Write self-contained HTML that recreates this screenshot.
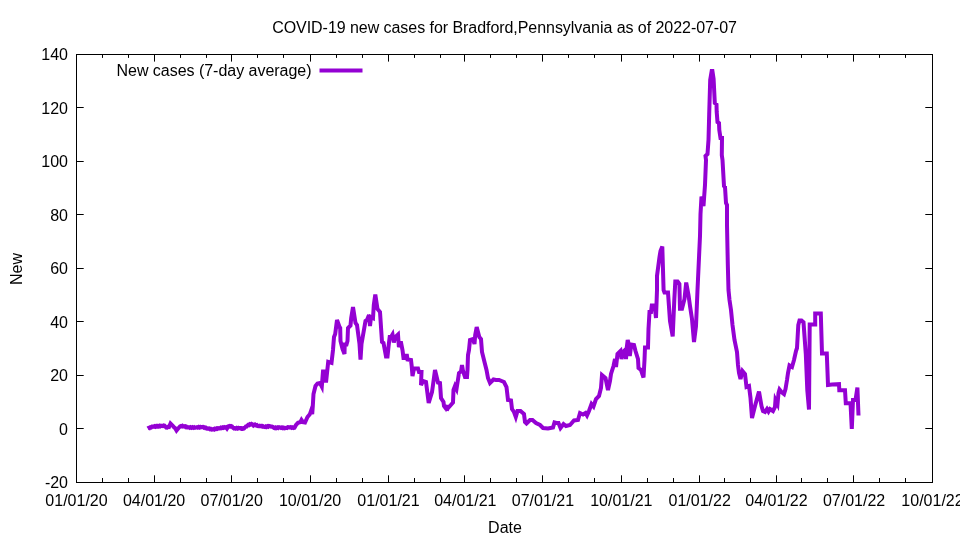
<!DOCTYPE html>
<html><head><meta charset="utf-8"><title>COVID-19 new cases</title>
<style>html,body{margin:0;padding:0;background:#fff}svg{display:block;will-change:transform;opacity:.9999}text{font-family:"Liberation Sans",sans-serif;font-size:16px;fill:#000}</style></head><body>
<svg width="960" height="540" viewBox="0 0 960 540">
<rect width="960" height="540" fill="#fff"/>
<path d="M76.5,482.5V475.3M76.5,54.5V61.6M154.5,482.5V475.3M154.5,54.5V61.6M231.5,482.5V475.3M231.5,54.5V61.6M310.5,482.5V475.3M310.5,54.5V61.6M388.5,482.5V475.3M388.5,54.5V61.6M464.5,482.5V475.3M464.5,54.5V61.6M542.5,482.5V475.3M542.5,54.5V61.6M621.5,482.5V475.3M621.5,54.5V61.6M699.5,482.5V475.3M699.5,54.5V61.6M776.5,482.5V475.3M776.5,54.5V61.6M853.5,482.5V475.3M853.5,54.5V61.6M932.5,482.5V475.3M932.5,54.5V61.6M102.5,482.5V478M102.5,54.5V57.9M128.5,482.5V478M128.5,54.5V57.9M180.5,482.5V478M180.5,54.5V57.9M206.5,482.5V478M206.5,54.5V57.9M257.5,482.5V478M257.5,54.5V57.9M283.5,482.5V478M283.5,54.5V57.9M336.5,482.5V478M336.5,54.5V57.9M362.5,482.5V478M362.5,54.5V57.9M414.5,482.5V478M414.5,54.5V57.9M440.5,482.5V478M440.5,54.5V57.9M490.5,482.5V478M490.5,54.5V57.9M516.5,482.5V478M516.5,54.5V57.9M568.5,482.5V478M568.5,54.5V57.9M594.5,482.5V478M594.5,54.5V57.9M647.5,482.5V478M647.5,54.5V57.9M673.5,482.5V478M673.5,54.5V57.9M724.5,482.5V478M724.5,54.5V57.9M750.5,482.5V478M750.5,54.5V57.9M801.5,482.5V478M801.5,54.5V57.9M827.5,482.5V478M827.5,54.5V57.9M879.5,482.5V478M879.5,54.5V57.9M905.5,482.5V478M905.5,54.5V57.9M76.5,482.5h7.2M932.5,482.5h-7.2M76.5,428.5h7.2M932.5,428.5h-7.2M76.5,375.5h7.2M932.5,375.5h-7.2M76.5,321.5h7.2M932.5,321.5h-7.2M76.5,268.5h7.2M932.5,268.5h-7.2M76.5,214.5h7.2M932.5,214.5h-7.2M76.5,161.5h7.2M932.5,161.5h-7.2M76.5,107.5h7.2M932.5,107.5h-7.2M76.5,54.5h7.2M932.5,54.5h-7.2" stroke="#000" stroke-width="1" fill="none"/>
<rect x="76.5" y="54.5" width="856.0" height="428.0" fill="none" stroke="#000" stroke-width="1"/>
<text x="68" y="488.0" text-anchor="end">-20</text>
<text x="68" y="434.5" text-anchor="end">0</text>
<text x="68" y="381.0" text-anchor="end">20</text>
<text x="68" y="327.5" text-anchor="end">40</text>
<text x="68" y="274.0" text-anchor="end">60</text>
<text x="68" y="220.5" text-anchor="end">80</text>
<text x="68" y="167.0" text-anchor="end">100</text>
<text x="68" y="113.5" text-anchor="end">120</text>
<text x="68" y="60.0" text-anchor="end">140</text>
<text x="76.5" y="505.7" text-anchor="middle">01/01/20</text>
<text x="154.1" y="505.7" text-anchor="middle">04/01/20</text>
<text x="231.7" y="505.7" text-anchor="middle">07/01/20</text>
<text x="310.1" y="505.7" text-anchor="middle">10/01/20</text>
<text x="388.5" y="505.7" text-anchor="middle">01/01/21</text>
<text x="465.3" y="505.7" text-anchor="middle">04/01/21</text>
<text x="542.9" y="505.7" text-anchor="middle">07/01/21</text>
<text x="621.3" y="505.7" text-anchor="middle">10/01/21</text>
<text x="699.7" y="505.7" text-anchor="middle">01/01/22</text>
<text x="776.5" y="505.7" text-anchor="middle">04/01/22</text>
<text x="854.1" y="505.7" text-anchor="middle">07/01/22</text>
<text x="932.5" y="505.7" text-anchor="middle">10/01/22</text>
<text x="272.2" y="33" textLength="464.7" lengthAdjust="spacing">COVID-19 new cases for Bradford,Pennsylvania as of 2022-07-07</text>
<text x="505" y="532.7" text-anchor="middle">Date</text>
<text transform="translate(22,269) rotate(-90)" text-anchor="middle">New</text>
<text x="116.5" y="76" textLength="195" lengthAdjust="spacing">New cases (7-day average)</text>
<path d="M319.5,70.5H362.5" stroke="#9400d3" stroke-width="4" fill="none"/>
<polyline points="147.7,428.5 148.58,427.87 149.47,428.13 150.35,427.2 151.23,427.47 152.12,426.53 153,426.5 153.82,426.75 154.64,426.11 155.45,426.66 156.27,426.02 157.09,426.57 157.91,425.93 158.73,426.48 159.55,425.84 160.36,426.39 161.18,425.75 162,426 162.83,426.13 163.67,425.37 164.5,425.5 166.2,427.5 167.13,427.63 168.07,426.87 169,427 170.5,423.5 173,426 174,427.3 175,428 176.5,430.5 179,427.5 180,426.45 181,426 181.75,426.35 182.5,425.8 183.25,426.45 184,426.2 184.8,426.16 185.6,427.02 186.4,426.68 187.2,427.54 188,427.5 188.89,427.2 189.78,427.8 190.67,427.2 191.56,427.8 192.44,427.2 193.33,427.8 194.22,427.2 195.11,427.8 196,427.5 196.86,427.13 197.71,427.66 198.57,426.99 199.43,427.51 200.29,426.84 201.14,427.37 202,427 202.86,426.91 203.71,427.73 204.57,427.34 205.43,428.16 206.29,427.77 207.14,428.59 208,428.5 208.9,428.4 209.8,429.2 210.7,428.8 211.6,429.6 212.5,429.5 213.31,429.04 214.12,429.48 214.94,428.71 215.75,429.15 216.56,428.39 217.38,428.82 218.19,428.06 219,428.2 219.88,428.38 220.75,427.65 221.62,428.12 222.5,427.4 223.38,427.88 224.25,427.15 225.12,427.62 226,427.2 227,428.5 228.5,426.2 229.38,425.97 230.25,426.65 231.12,426.12 232,426.5 233,427.8 234,428.5 234.86,428.13 235.71,428.66 236.57,427.99 237.43,428.51 238.29,427.84 239.14,428.37 240,428 240.83,428.03 241.67,428.97 242.5,429 243.33,428.2 244.17,428.3 245,427.5 245.83,426.53 246.67,426.47 247.5,425.5 248.3,424.86 249.1,425.12 249.9,424.18 250.7,424.44 251.5,423.8 252.5,424.35 253.5,425.5 255,424.5 255.88,425.23 256.75,425.05 257.62,426.07 258.5,426.2 259.33,425.77 260.17,426.23 261,425.8 261.75,425.8 262.5,426.7 263.25,426.4 264,427 264.86,427.19 265.71,426.47 266.57,426.96 267.43,426.24 268.29,426.73 269.14,426.01 270,426.2 271,426.65 272,426.5 273,426.95 274,428 274.86,428.23 275.71,427.56 276.57,428.09 277.43,427.41 278.29,427.94 279.14,427.27 280,427.5 280.92,427.92 281.83,427.43 282.75,428.15 283.67,427.67 284.58,428.38 285.5,428.2 286.38,427.65 287.25,428 288.12,427.15 289,427.2 289.92,427.6 290.83,427.1 291.75,427.8 292.67,427.3 293.58,428 294.5,427.8 296,425 298,422.8 300.5,422 301.5,420 303,422.2 305,422.5 307.5,417 310,414 311,411 312.2,414 312.8,406 313.5,394 315.5,386 317.5,383.5 320,383 321.8,386.5 323,371.5 324.5,371.5 326,382.5 328.2,361.8 331.5,362.8 333,350 334,337 335.2,334 337,320 339.5,327 340.2,328 340.5,341 342.5,349 344.5,354 344.7,344.5 346.5,344.5 347.5,341 348,328 350.5,325.5 351.2,318 353,307 355.5,323 357,325 359.5,344 360.5,359.5 361.5,344 365.5,321 367,320 369,315 370,326 371,317 373,318 373.8,305 375.3,294.5 377.5,309 380,312 382,342 383.5,343 386,356.5 387.5,356.5 388.7,345 389.7,337 391,337 392.5,334.5 393.8,342.5 395.3,337 398,334.5 398.9,347 400.8,341.5 402.5,350 403.5,358 405.5,358 406.7,354 407.5,359.5 411,360 411.7,366 412.5,376 414,368.5 418,368.5 419,372 421.5,372 421,385 423,381 426,382 428.7,403 432,392 433,385 435,370 438,382.5 440,383 441,398 443.5,402 444,406 445.5,408 446.5,405 446.8,410.5 448,408 450,406 453,402.5 453.5,390 455,386 456.5,389 459,373 461,371.5 462,365 463,371 465,377 467,377 467.5,370 468,355 469,350 470,340 473,339 474.5,344 475.2,335 476.7,327 479.3,337 481,339 482,352 485,364 486.5,370 488,378 490,383 493.5,379.5 496,380 499,380 504,382 506.5,387 508,400 511,400.5 512,409 514,412 515.8,417 517.5,411 520.5,411 524,414 525,422 526.5,423.5 528,422 530,420 532.5,420 536,423 540,425 543,428 548,428.5 553,427.5 554.5,422.5 556.5,423 558.5,423 560.5,428 563.5,424 566,426 570,425 574,420.5 578,420 580,413 583,414.5 585.5,413 587,415.5 589,411 591.5,404 593.5,406.5 596,399 599,396 601,388 602,375 605.5,378 608,390 610,381 611,374 613.5,366 615,359 616,367 617.5,354 620.5,351 621.5,359 623,352 625,350 626,359 626.7,348 627.7,340 629.3,346 629.8,356 631.3,344.5 634,345 635.5,351 638,359 638.5,368 641,370 643.5,377.5 644.5,360 645,347.5 648,347.5 648.5,329 649.5,312 651,312 651.8,305.5 654.6,305.5 656,318 657,290 657,276 659.5,257 660.5,251 662.3,246.5 663.6,290 664.5,292.5 668,292.5 670,321 672.7,336.5 674.3,300 675.3,281.5 677.6,281.5 679.4,284 680,308.7 682,308.7 684.5,299 686.2,282.5 688.5,295 690,306 692,319 694,342 696,326 697.5,290 700,236 700.5,214 701.5,196.5 703.5,206 705,185 706,160 705.5,156 707.5,154 708.5,140 709.2,114 710.2,80 711.7,71 712.4,71 713.6,79 714.8,103 716.5,104.5 716.7,112 717.5,122 719,123 719.3,130 720.5,138 722,138 721.8,155 722.5,160 724,186 725,187 726,203 727,205 727,225 727.8,264 728.5,290 729.5,300 731,310 732.5,325 734.5,340 737,352 738,365 739,373 740.5,379 742.5,371 745,374 746.5,387 749,386 750.5,398 752,418 755,406 759,391.5 761.5,406 763,411 765,412 767,409 768.5,411.5 770,409 773,411 775,407 775.5,400 777.5,404 778.5,393 779.5,389.5 781.5,392 784,394 785.5,389 787,380 788,373 789.5,365.5 792,367 794,360 796,351 797,348 798.3,325 799.5,320.5 801.5,320.5 803.5,322.3 805.8,354 807.3,390 809,409.5 809.7,324.5 815.2,324.5 815.2,313.5 820.8,313.5 822,353.6 826.8,353.6 828,385 832,384.6 839,384.2 839.3,390.2 845,390.2 845.8,403.2 850.5,403.2 851.8,429 853,400 855.5,400 857.4,387.5 858.5,415.5" fill="none" stroke="#9400d3" stroke-width="4" stroke-linejoin="miter" stroke-miterlimit="3.8" stroke-linecap="butt"/>
</svg></body></html>
